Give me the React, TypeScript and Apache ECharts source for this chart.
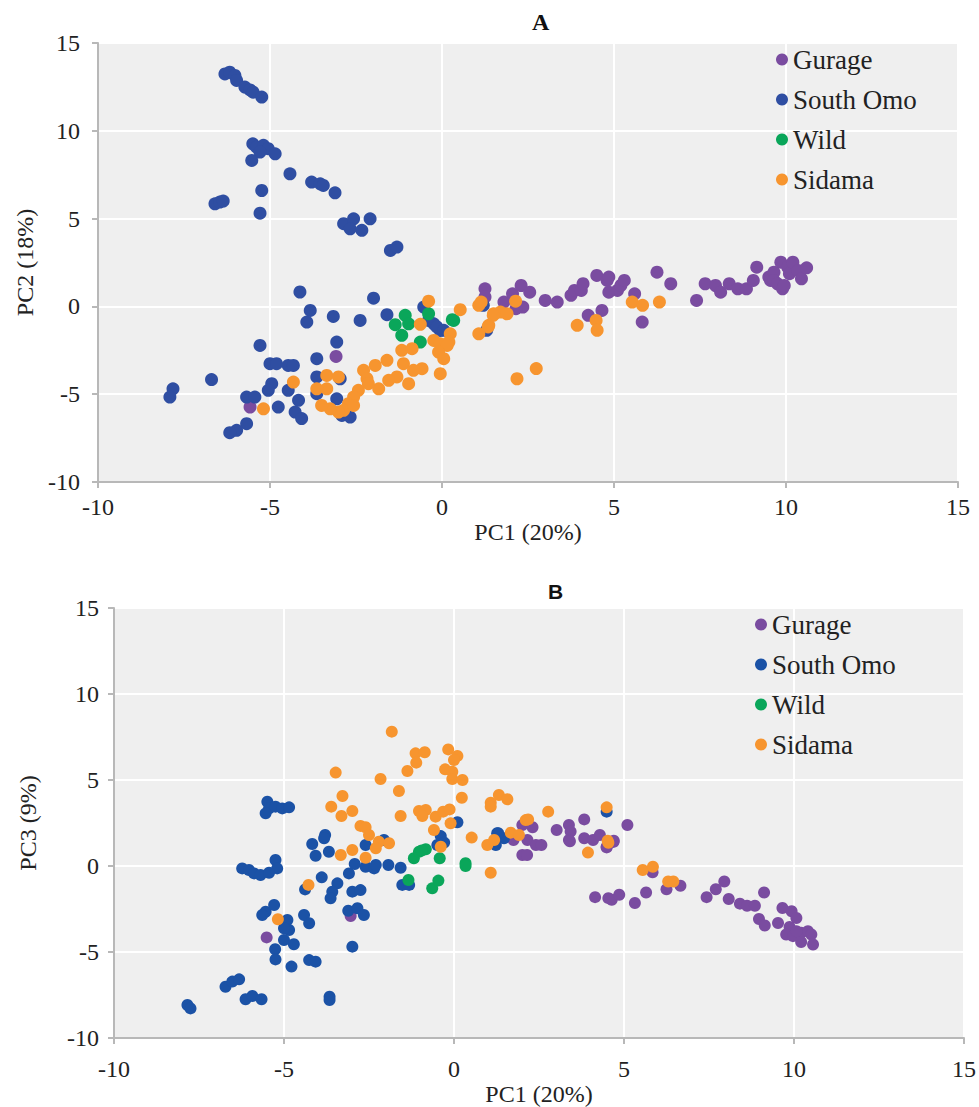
import React, { useEffect, useRef } from "react";
import * as echarts from "echarts";

type P = [number, number];

// ---------- Chart A: PC1 vs PC2 ----------
const gurageA: P[] = [
  [-3.08, -2.85], [-5.58, -5.73], [1.25, 1.0], [1.25, 0.53], [1.8, 0.25], [2.05, 0.72], [2.3, 1.19],
  [2.55, 0.81], [2.35, -0.04], [2.15, -0.13], [3.0, 0.34], [3.35, 0.25], [3.75, 0.63], [3.85, 0.91],
  [4.05, 0.91], [4.1, 1.29], [4.5, 1.76], [4.8, 1.48], [4.85, 1.67], [4.85, 0.81], [5.1, 0.91],
  [5.2, 1.19], [5.3, 1.48], [5.6, 0.72], [6.25, 1.95], [6.65, 1.29], [5.82, -0.89], [4.25, -0.51],
  [4.65, -0.23], [7.4, 0.34], [7.65, 1.29], [7.95, 1.19], [8.1, 0.81], [8.35, 1.29], [8.6, 1.0],
  [8.85, 1.0], [9.05, 1.48], [9.15, 2.23], [9.5, 1.67], [9.55, 1.48], [9.65, 1.95], [9.65, 1.48],
  [9.75, 1.29], [9.85, 2.52], [9.9, 1.0], [9.95, 1.19], [10.05, 2.23], [10.1, 1.86], [10.2, 2.52],
  [10.35, 2.05], [10.45, 1.57], [10.6, 2.2],
];

const southOmoA: P[] = [
  [-6.31, 13.24], [-6.17, 13.34], [-6.02, 13.15], [-5.97, 12.87], [-5.73, 12.49], [-5.58, 12.33],
  [-5.49, 12.2], [-5.24, 11.92], [-5.5, 9.26], [-5.39, 9.07], [-5.19, 9.17], [-5.05, 8.98],
  [-4.85, 8.69], [-5.29, 8.79], [-5.53, 8.31], [-4.42, 7.55], [-3.79, 7.08], [-3.54, 6.98],
  [-3.45, 6.89], [-3.11, 6.47], [-5.24, 6.6], [-6.6, 5.84], [-6.46, 5.94], [-6.36, 6.0],
  [-5.29, 5.31], [-2.86, 4.71], [-2.57, 4.99], [-2.67, 4.42], [-2.33, 4.33], [-2.09, 4.99],
  [-1.5, 3.19], [-1.31, 3.38], [-4.13, 0.82], [-1.99, 0.47], [-3.83, -0.23], [-3.93, -0.89],
  [-3.16, -0.57], [-2.38, -0.8], [-1.6, -0.47], [-0.53, -0.04], [-0.24, -0.99], [-0.05, -1.37],
  [-0.39, -0.8], [-0.15, -1.17], [0.05, -1.36], [1.3, -1.36], [1.2, 0.06], [-3.06, -2.03],
  [-5.29, -2.22], [-3.64, -2.98], [-5.0, -3.26], [-4.81, -3.26], [-4.47, -3.36], [-4.32, -3.36],
  [-6.7, -4.17], [-7.82, -4.69], [-7.91, -5.16], [-4.95, -4.4], [-5.05, -4.78], [-4.47, -4.78],
  [-5.68, -5.16], [-5.44, -5.16], [-3.64, -4.02], [-3.64, -4.97], [-3.06, -5.26], [-2.96, -4.12],
  [-4.76, -5.73], [-4.17, -5.35], [-4.27, -6.02], [-4.08, -6.39], [-2.91, -6.21], [-2.67, -6.3],
  [-5.68, -6.68], [-5.97, -7.06], [-6.17, -7.19],
];

const wildA: P[] = [
  [-1.36, -1.04], [-1.07, -0.51], [-0.97, -0.99], [-1.17, -1.65], [-0.63, -2.03], [-0.39, -0.42],
  [0.34, -0.8], [0.3, -0.76],
];

const sidamaA: P[] = [
  [-0.39, 0.3], [0.53, -0.19], [1.07, 0.06], [1.14, 0.25], [1.5, -0.42], [1.7, -0.32], [1.89, -0.42],
  [2.14, 0.3], [1.49, -0.51], [1.36, -1.08], [1.34, -1.17], [1.07, -1.56], [2.18, -4.12], [2.74, -3.54],
  [3.93, -1.08], [4.48, -0.8], [4.51, -1.36], [5.53, 0.25], [5.83, 0.06], [6.32, 0.25],
  [-0.63, -1.02], [0.24, -1.56], [0.2, -2.03], [-0.24, -1.94], [-0.05, -2.13], [0.15, -2.22],
  [-1.17, -2.5], [-0.87, -2.41], [-0.1, -2.6], [0.05, -2.98], [-0.05, -3.83], [-1.12, -3.26],
  [-0.97, -4.4], [-0.58, -3.55], [-0.83, -3.64], [-1.6, -3.07], [-1.94, -3.36], [-2.28, -3.64],
  [-2.18, -4.12], [-1.31, -4.02], [-1.55, -4.21], [-1.84, -4.69], [-2.14, -4.4], [-2.43, -4.78],
  [-2.57, -5.16], [-2.72, -5.54], [-2.86, -5.92], [-3.01, -6.02], [-3.25, -5.83], [-3.5, -5.64],
  [-3.35, -4.69], [-3.64, -4.69], [-3.35, -3.93], [-3.01, -4.02], [-4.32, -4.31], [-5.19, -5.83],
  [-2.57, -5.64],
];

// ---------- Chart B: PC1 vs PC3 ----------
const gurageB: P[] = [
  [-5.51, -4.15], [-3.04, -2.91], [2.01, 2.38], [2.31, 2.25], [2.16, 1.51], [1.75, 1.51], [2.01, 0.64],
  [2.15, 0.64], [3.02, 2.09], [3.38, 2.38], [3.43, 2.0], [3.38, 1.51], [3.83, 2.71], [3.83, 1.61],
  [4.09, 1.51], [4.29, 1.8], [4.49, 1.12], [4.7, 1.47], [5.1, 2.38], [2.41, 1.22], [2.57, 1.22],
  [3.41, 1.44], [4.49, 1.08], [4.69, 1.4], [5.84, -0.37], [4.15, -1.81], [4.54, -1.87], [4.64, -1.96],
  [4.86, -1.67], [5.32, -2.15], [5.65, -1.54], [6.25, -1.35], [6.66, -1.15], [7.43, -1.81],
  [7.7, -1.35], [7.95, -0.9], [8.08, -1.92], [8.41, -2.19], [8.62, -2.31], [8.85, -2.31],
  [9.12, -1.54], [8.97, -3.08], [9.14, -3.46], [9.66, -2.44], [9.93, -2.63], [10.07, -3.02],
  [9.53, -3.31], [9.87, -3.54], [9.77, -3.98], [9.97, -4.08], [10.21, -3.88], [10.41, -3.79],
  [10.51, -3.98], [10.21, -4.42], [10.56, -4.56], [10.07, -3.79],
];

const southOmoB: P[] = [
  [-5.49, 3.74], [-5.44, 3.35], [-5.54, 3.06], [-5.25, 3.45], [-5.05, 3.35], [-4.85, 3.41],
  [-5.25, 0.35], [-5.2, -0.14], [-6.23, -0.14], [-6.03, -0.23], [-5.88, -0.43], [-5.69, -0.52],
  [-5.44, -0.39], [-3.79, 1.8], [-3.82, 1.61], [-4.17, 1.28], [-4.07, 0.6], [-3.68, 0.83],
  [-3.89, -0.66], [-3.43, -1.01], [-3.58, -1.49], [-3.63, -1.88], [-4.38, -1.36], [-3.09, -0.43],
  [-2.92, 0.12], [-2.6, 1.22], [-2.06, 1.51], [-2.6, -0.04], [-2.35, -0.14], [-2.3, 0.06],
  [-1.93, 0.06], [-1.57, -0.1], [-1.52, -1.1], [-1.32, -1.1], [-2.99, -1.49], [-2.75, -1.4],
  [-3.11, -2.6], [-2.84, -2.46], [-2.65, -2.85], [-2.99, -4.69], [-5.54, -2.66], [-5.29, -2.27],
  [-5.64, -2.85], [-4.41, -2.85], [-4.26, -3.33], [-4.9, -3.14], [-4.85, -3.72], [-5.0, -3.62],
  [-5.0, -4.3], [-4.71, -4.55], [-5.26, -4.84], [-5.25, -5.43], [-4.78, -5.85], [-4.26, -5.47],
  [-4.07, -5.56], [-6.72, -7.02], [-6.52, -6.72], [-6.32, -6.59], [-6.13, -7.75], [-5.93, -7.56],
  [-5.66, -7.75], [-3.66, -7.6], [-3.66, -7.79], [-7.84, -8.08], [-7.75, -8.28], [-0.39, 1.74],
  [-0.49, 1.22], [-0.29, 1.36], [0.1, 2.54], [1.27, 1.9], [1.23, 1.22], [1.47, 1.61], [1.3, 1.9],
  [4.49, 3.16],
];

const wildB: P[] = [
  [-1.18, 0.45], [-1.03, 0.83], [-0.83, 0.97], [-0.95, 0.9], [-1.34, -0.81], [-0.64, -1.3],
  [-0.46, -0.85], [-0.42, 0.45], [0.34, 0.16], [0.34, 0.0],
];

const sidamaB: P[] = [
  [-1.83, 7.81], [-3.48, 5.43], [-2.16, 5.06], [-3.28, 4.07], [-1.62, 4.36], [-1.37, 5.52],
  [-1.13, 6.55], [-1.11, 6.01], [-0.86, 6.61], [-0.17, 6.78], [0.1, 6.4], [0.0, 6.16], [-0.26, 5.62],
  [-0.05, 5.48], [-0.05, 5.06], [0.25, 5.0], [0.23, 3.97], [-3.61, 3.45], [-3.31, 2.91], [-2.99, 3.2],
  [-1.57, 2.91], [-1.03, 3.2], [-0.83, 3.26], [-0.93, 2.91], [-0.54, 2.87], [-0.32, 3.16],
  [-0.13, 3.29], [-0.1, 2.48], [-0.59, 2.09], [-0.39, 1.12], [-2.75, 2.33], [-2.6, 2.25],
  [-2.5, 1.8], [-2.21, 1.41], [-2.3, 1.03], [-1.91, 1.32], [-2.99, 0.93], [-3.33, 0.64], [-2.6, 0.48],
  [-4.28, -1.1], [-5.18, -3.1], [0.52, 1.65], [1.08, 3.68], [1.08, 3.45], [1.32, 4.13], [1.57, 3.88],
  [0.98, 1.22], [1.18, 1.51], [1.08, -0.39], [1.67, 1.94], [1.91, 1.8], [2.11, 2.67], [2.18, 2.71],
  [2.77, 3.16], [4.49, 3.41], [3.94, 0.78], [4.52, 1.47], [4.54, 1.35], [5.55, -0.23], [5.85, -0.04],
  [6.3, -0.9], [6.45, -0.9],
];

const groupNames = ["Gurage", "South Omo", "Wild", "Sidama"];
const xTicks = [-10, -5, 0, 5, 10, 15];
const yTicks = [-10, -5, 0, 5, 10, 15];

const colorsA = ["#7a4ca0", "#2f4ea2", "#0aa65a", "#f7952f"];
const colorsB = ["#7a4ca0", "#1b52a6", "#0aa65a", "#f7952f"];

const SERIF = "Liberation Serif";
const SANS = "Liberation Sans";

export default function App() {
  const ref = useRef<HTMLDivElement>(null);

  useEffect(() => {
    document.body.style.margin = "0";
    if (!ref.current) return;
    const chart = echarts.init(ref.current, undefined, { renderer: "svg" });

    const axisCommon = (grid: number) => ({
      gridIndex: grid,
      type: "value" as const,
      min: xTicks[0],
      max: xTicks[xTicks.length - 1],
      interval: 5,
      axisLine: { show: true, onZero: false, lineStyle: { color: "#b8b8b8", width: 2 } },
      axisTick: { show: true, length: 6, lineStyle: { color: "#b8b8b8", width: 2 } },
      splitLine: { show: true, lineStyle: { color: "#ffffff", width: 2 } },
    });

    const labelStyle = { fontFamily: SERIF, fontSize: 24, color: "#222" };
    const nameStyle = { fontFamily: SERIF, fontSize: 24, color: "#222" };

    const datasets = [
      [gurageA, southOmoA, wildA, sidamaA],
      [gurageB, southOmoB, wildB, sidamaB],
    ];

    const series: any[] = [];
    datasets.forEach((groups, gi) => {
      const cols = gi === 0 ? colorsA : colorsB;
      groups.forEach((pts, si) => {
        series.push({
          type: "scatter",
          name: groupNames[si],
          xAxisIndex: gi,
          yAxisIndex: gi,
          data: pts,
          symbol: "circle",
          symbolSize: gi === 0 ? 13 : 12,
          itemStyle: { color: cols[si], opacity: 1 },
          silent: true,
          z: 2 + si,
        });
      });
    });

    const legendFor = (gi: number, left: number, top: number) => ({
      orient: "vertical" as const,
      left,
      top,
      icon: "circle",
      itemWidth: 12,
      itemHeight: 12,
      itemGap: 13,
      itemTextGap: 6,
      selectedMode: false,
      textStyle: { fontFamily: SERIF, fontSize: 27, color: "#222" },
      data: groupNames.map((n, i) => ({
        name: n,
        itemStyle: { color: (gi === 0 ? colorsA : colorsB)[i] },
      })),
    });

    chart.setOption({
      animation: false,
      backgroundColor: "#ffffff",
      title: [
        { text: "A", left: 527, top: 5, textStyle: { fontFamily: SERIF, fontWeight: "bold", fontSize: 24, color: "#111" } },
        { text: "B", left: 543, top: 576, textStyle: { fontFamily: SANS, fontWeight: "bold", fontSize: 21, color: "#111" } },
      ],
      legend: [legendFor(0, 771, 41), legendFor(1, 750, 606)],
      grid: [
        { left: 98, right: 21, top: 43, bottom: 625, show: true, backgroundColor: "#efefef", borderWidth: 0 },
        { left: 114, right: 15, top: 608, bottom: 69, show: true, backgroundColor: "#efefef", borderWidth: 0 },
      ],
      xAxis: [
        {
          ...axisCommon(0),
          axisLabel: { ...labelStyle, margin: 13 },
          name: "PC1 (20%)",
          nameLocation: "middle",
          nameGap: 28,
          nameTextStyle: nameStyle,
        },
        {
          ...axisCommon(1),
          axisLabel: { ...labelStyle, margin: 19 },
          name: "PC1 (20%)",
          nameLocation: "middle",
          nameGap: 40,
          nameTextStyle: nameStyle,
        },
      ],
      yAxis: [
        {
          ...axisCommon(0),
          min: yTicks[0],
          max: yTicks[yTicks.length - 1],
          axisLabel: { ...labelStyle, margin: 18 },
          name: "PC2 (18%)",
          nameLocation: "middle",
          nameGap: 58,
          nameRotate: 90,
          nameTextStyle: nameStyle,
        },
        {
          ...axisCommon(1),
          min: yTicks[0],
          max: yTicks[yTicks.length - 1],
          axisLabel: { ...labelStyle, margin: 15 },
          name: "PC3 (9%)",
          nameLocation: "middle",
          nameGap: 74,
          nameRotate: 90,
          nameTextStyle: nameStyle,
        },
      ],
      series,
    });

    return () => chart.dispose();
  }, []);

  return <div ref={ref} style={{ width: 979, height: 1107 }} />;
}
